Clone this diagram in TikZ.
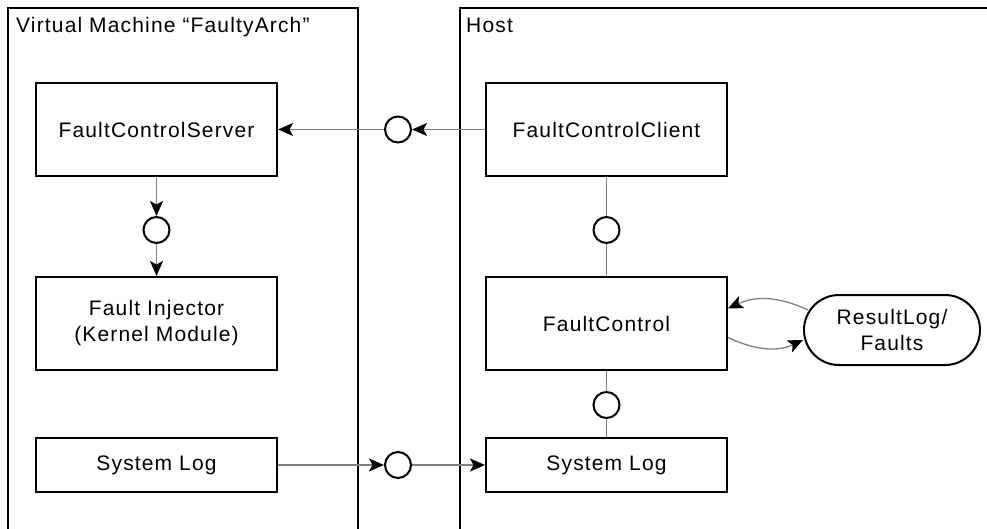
\documentclass[tikz,border=0pt]{standalone}
\usepackage{fontspec}
\setmainfont[LetterSpace=5.5]{Liberation Sans}
\usetikzlibrary{arrows.meta,shapes.misc}
\tikzset{headtip/.tip={Stealth[length=15pt,width=13pt,inset=3.5pt,color=black]}}
\begin{document}
\begin{tikzpicture}[x=1pt,y=-1pt,
  frame/.style={line width=2pt,draw=black,line join=miter},
  label/.style={anchor=base west,inner sep=0pt,font=\fontsize{21}{25}\selectfont},
  comp/.style={draw=black,line width=2pt,fill=white,minimum width=241pt,
    minimum height=93pt,inner sep=0pt,align=center,
    font=\fontsize{21}{26}\selectfont},
  logbox/.style={comp,minimum height=54pt},
  store/.style={rounded rectangle,draw=black,line width=2pt,fill=white,
    minimum width=176pt,minimum height=70pt,inner sep=0pt,align=center,
    font=\fontsize{21}{26}\selectfont},
  iface/.style={circle,draw=black,line width=2pt,fill=white,
    minimum size=26pt,inner sep=0pt},
  conn/.style={draw=black!50,line width=1.3pt},
  flow/.style={conn,-headtip},
]
\useasboundingbox (0,0) rectangle (987,529);

% deployment frames, open towards the page edges
\draw[frame] (8,540) -- (8,8) -- (358,8) -- (358,540);
\draw[frame] (460,540) -- (460,8) -- (995,8);
\node[label] (vmtitle) at (16,33) {Virtual Machine “FaultyArch”};
\node[label] (hosttitle) at (466,33) {Host};

% components
\node[comp] (srv) at (156.5,129.5) {FaultControlServer};
\node[comp] (inj) at (156.5,323.5) {Fault Injector\\(Kernel Module)};
\node[logbox] (logL) at (156.5,465) {System Log};
\node[comp] (cli) at (606.5,129.5) {FaultControlClient};
\node[comp] (fc) at (606.5,323.5) {FaultControl};
\node[logbox] (logR) at (606.5,465) {System Log};
\node[store] (rl) at (892,330) {ResultLog/\\Faults};

% provided interfaces
\node[iface] (i1) at (398,129.5) {};
\node[iface] (i2) at (156.5,230) {};
\node[iface] (i3) at (606.5,230) {};
\node[iface] (i4) at (606.5,405) {};
\node[iface] (i5) at (398,465) {};

% connectors
\draw[flow] (cli) -- (i1);
\draw[flow] (i1) -- (srv);
\draw[flow] (srv) -- (i2);
\draw[flow] (i2) -- (inj);
\draw[conn] (cli) -- (i3);
\draw[conn] (i3) -- (fc);
\draw[conn] (fc) -- (i4);
\draw[conn] (i4) -- (logR);
\draw[flow] (logL) -- (i5);
\draw[flow] (i5) -- (logR);
\draw[flow] ([xshift=5pt,yshift=20pt]rl.west) to[out=155,in=25] ([yshift=15pt]fc.east);
\draw[flow] ([yshift=-14pt]fc.east) to[out=-25,in=205] ([yshift=-10pt]rl.west);
\end{tikzpicture}
\end{document}
